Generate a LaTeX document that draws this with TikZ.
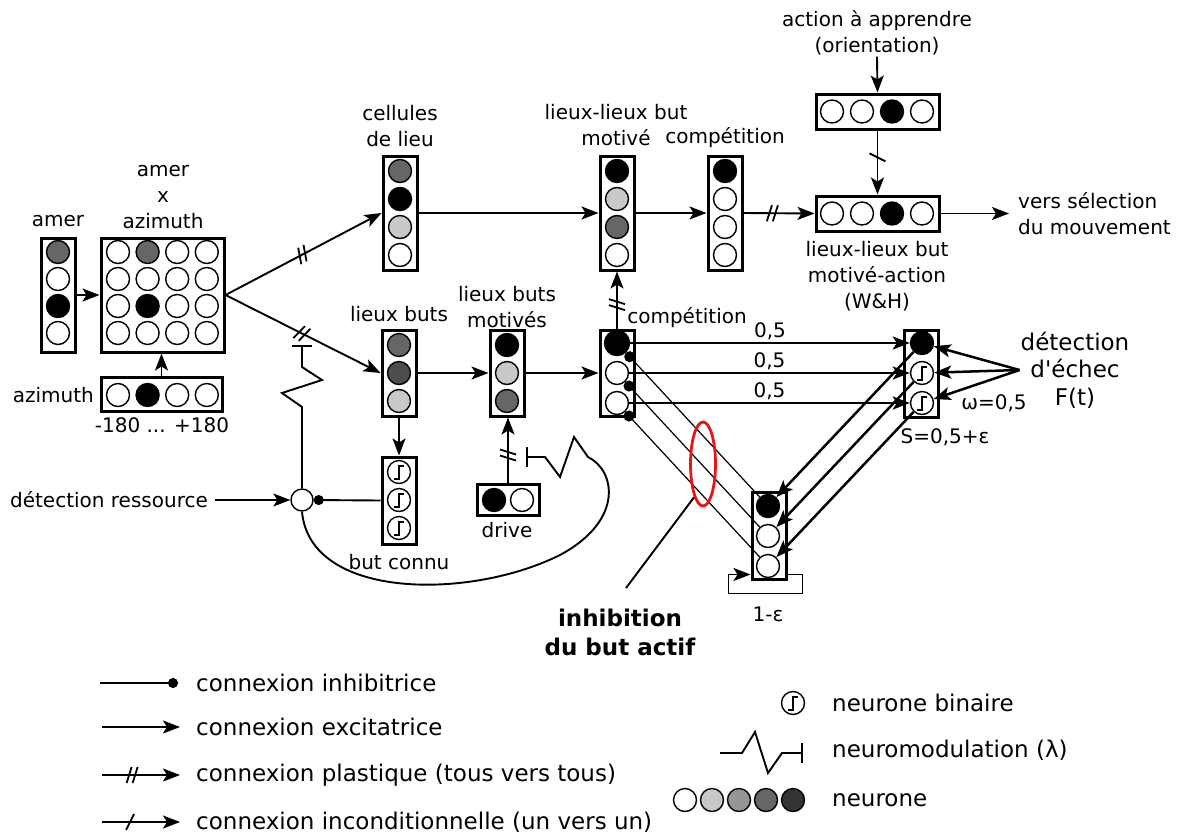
\documentclass[tikz,border=0pt]{standalone}
\usepackage{fontspec}
\setmainfont{DejaVu Sans}[Ligatures=TeXOff]
\usetikzlibrary{calc,arrows.meta,decorations.markings,shapes.geometric}
\definecolor{nrnLight}{RGB}{200,200,200}
\definecolor{nrnGrey}{RGB}{150,150,150}
\definecolor{nrnMid}{RGB}{102,102,102}
\definecolor{nrnDark}{RGB}{77,77,77}
\definecolor{nrnDeep}{RGB}{51,51,51}
\definecolor{inhibRed}{RGB}{235,20,20}
\newcommand{\NeuronCol}[5]{%
  \foreach \f [count=\k] in {#5}
    \node[neuron,fill=\f] (#1\k) at (#2,{#3+#4*(\k-1)}) {};}

\begin{document}
\begin{tikzpicture}[x=1pt,y=-1pt,font=\fontsize{20}{26}\selectfont,
  neuron/.style={circle,draw,line width=1.4pt,minimum size=23pt,inner sep=0pt,fill=white},
  binary/.style={neuron,path picture={\draw[line width=1.3pt] ($(path picture bounding box.center)+(-5pt,-7pt)$) -- ++(5pt,0pt) -- ++(0pt,13pt) -- ++(5pt,0pt);}},
  layerbox/.style={draw,line width=3pt,fill=white,inner sep=0pt},
  lbl/.style={align=center,inner sep=1pt},
  lgtext/.style={anchor=west,inner sep=2pt,font=\fontsize{23}{28}\selectfont},
  exc/.style={line width=1.9pt,-{Stealth[length=17pt,width=13pt,inset=4pt]}},
  exch/.style={exc,line width=2.5pt},
  inh/.style={line width=1.9pt,-{Circle[length=10pt]}},
  inhthin/.style={line width=1.2pt,-{Circle[length=11pt]}},
  modul/.style={line width=1.9pt,-{Bar[width=20pt]}},
  plastic/.style={postaction={decorate},decoration={markings,mark=at position #1 with {\draw[-,line width=1.8pt] (-5pt,-8pt) -- (0pt,8pt) (1pt,-8pt) -- (6pt,8pt);}}},
  uncond/.style={postaction={decorate},decoration={markings,mark=at position #1 with {\draw[-,line width=1.8pt] (-4pt,-8pt) -- (4pt,8pt);}}}]
\useasboundingbox (0,0) rectangle (1186,836);

\node[layerbox,minimum width=34pt,minimum height=114pt] (amer) at (58,295) {};
\NeuronCol{am}{58}{252}{27}{nrnMid,white,black,white}
\node[lbl] (amerlbl) at (58,221) {amer};

\node[layerbox,minimum width=123pt,minimum height=114pt] (grid) at (162.5,295) {};
\foreach \r/\f in {1/nrnMid,2/white,3/black,4/white}
  \foreach \c in {1,...,4} {
    \ifnum\c=2 \edef\gf{\f}\else\def\gf{white}\fi
    \node[neuron,fill=\gf] (g\r\c) at ({88.4+29.6*\c},{225+27*\r}) {};
  }
\node[lbl] (gridlbl) at (163,197) {amer\\x\\azimuth};

\node[layerbox,minimum width=121pt,minimum height=34pt] (azi) at (161.5,394.5) {};
\foreach \f [count=\c] in {white,black,white,white}
  \node[neuron,fill=\f] (az\c) at ({88.4+29.6*\c},395) {};
\node[lbl,anchor=east] (azilbl) at (95,395) {azimuth};
\node[lbl] (rangelbl) at (162,425) {-180 ... +180};

\node[layerbox,minimum width=34pt,minimum height=114pt] (lieu) at (400,213) {};
\NeuronCol{lieu}{400}{171}{28}{nrnMid,black,nrnLight,white}
\node[lbl] (lieulbl) at (400,126) {cellules\\de lieu};

\node[layerbox,minimum width=34pt,minimum height=114pt] (llbm) at (617,213) {};
\NeuronCol{llbm}{617}{171}{28}{black,nrnLight,nrnMid,white}
\node[lbl] (llbmlbl) at (616,125) {lieux-lieux but\\motivé};

\node[layerbox,minimum width=34pt,minimum height=114pt] (comp) at (725,213) {};
\NeuronCol{comp}{725}{171}{28}{black,white,white,white}
\node[lbl] (complbl) at (725,138) {compétition};

\node[layerbox,minimum width=123pt,minimum height=35pt] (act) at (877.5,111.5) {};
\foreach \f [count=\k] in {white,white,black,white}
  \node[neuron,fill=\f] (act\k) at ({802+30*\k},111.5) {};
\node[lbl] (actlbl) at (877,33) {action à apprendre\\(orientation)};

\node[layerbox,minimum width=123pt,minimum height=35pt] (wh) at (877.5,213.5) {};
\foreach \f [count=\k] in {white,white,black,white}
  \node[neuron,fill=\f] (wh\k) at ({802+30*\k},213.5) {};
\node[lbl] (whlbl) at (877,276) {lieux-lieux but\\motivé-action\\(W\&H)};
\node[lbl,anchor=west,align=left] (out) at (1017,214) {vers sélection\\du mouvement};

\node[layerbox,minimum width=34pt,minimum height=86pt] (lb) at (399,373) {};
\NeuronCol{lb}{399}{345}{28}{nrnMid,nrnDark,nrnLight}
\node[lbl] (lblbl) at (399,314) {lieux buts};

\node[layerbox,minimum width=34pt,minimum height=87pt] (bc) at (399,500.5) {};
\foreach \k in {1,2,3}
  \node[binary] (bc\k) at (399,{444+28*\k}) {};
\node[lbl] (bclbl) at (399,562) {but connu};

\node[layerbox,minimum width=34pt,minimum height=86pt] (lbm) at (507,373) {};
\NeuronCol{lbm}{507}{345}{28}{black,nrnLight,nrnMid}
\node[lbl] (lbmlbl) at (507,307) {lieux buts\\motivés};

\node[layerbox,minimum width=62pt,minimum height=31pt] (drive) at (508,500) {};
\node[neuron,fill=black] (drive1) at (494,500) {};
\node[neuron] (drive2) at (522,500) {};
\node[lbl] (drivelbl) at (507,530) {drive};

\node[layerbox,minimum width=34pt,minimum height=86pt] (cp) at (617,373) {};
\node[neuron,fill=black,minimum size=25pt] (cp1) at (617,343) {};
\node[neuron] (cp2) at (617,373) {};
\node[neuron] (cp3) at (617,403) {};
\node[lbl] (cplbl) at (687,318) {compétition};

\node[layerbox,minimum width=34pt,minimum height=87pt] (sc) at (921,373.5) {};
\node[neuron,fill=black] (s1) at (922,343) {};
\node[binary] (s2) at (922,373) {};
\node[binary] (s3) at (922,403) {};
\node[lbl] (omegalbl) at (994,403) {ω=0,5};
\node[lbl] (slbl) at (945,437) {S=0,5+ε};
\node[lbl,font=\fontsize{23}{27.5}\selectfont] (fail) at (1075,370) {détection\\d'échec\\F(t)};

\node[layerbox,minimum width=34pt,minimum height=87pt] (bot) at (769,535.5) {};
\NeuronCol{bot}{768}{506}{30}{black,white,white}
\node[lbl] (botlbl) at (768,614) {1-ε};

\node[neuron,minimum size=22pt] (res) at (302,500) {};
\node[lbl] (detres) at (109,500) {détection ressource};

\draw[exc] (amer.east) -- (grid.west);
\draw[exc] (azi.north) -- (azi.north |- grid.south);
\draw[exc,plastic=0.49] (grid.east) -- (lieu.west);
\draw[exc,plastic=0.49] (grid.east) -- (lb.west);
\draw[exc] (lieu.east) -- (llbm.west);
\draw[exc] (llbm.east) -- (comp.west);
\draw[exc,plastic=0.4] (comp.east) -- (wh.west);
\draw[exc] (actlbl.south) -- (act.north);
\draw[exc,uncond=0.42] (act.south) -- (wh.north);
\draw[exc,shorten >=8pt] (wh.east) -- (wh.east -| out.west);
\draw[exc] (lb.east) -- (lbm.west);
\draw[exc] (lbm.east) -- (cp.west);
\draw[exc] (lb.south) -- (bc.north);
\draw[exc,plastic=0.42] (drive.north) -- (drive.north |- lbm.south);
\draw[exc,plastic=0.41] (cp.north) -- (llbm.south);
\draw[exc,shorten <=6pt] (detres.east) -- (res.west);
\draw[inh] (bc.west) -- (res.east);

\coordinate (modA) at (302,345);
\draw[modul] (res.north) -- (302,407) -- (282,393) -- (322,380) -- (302,367) -- (modA);
\coordinate (modB) at (526,457);
\draw[modul] (res.south) .. controls (310,600) and (470,600) .. (560,555) .. controls (625,520) and (615,470) .. (588,457) -- (574,437) -- (560,477) -- (545,457) -- (modB);

\foreach \k in {1,2,3} {
  \draw[exch] (cp\k) -- node[above=1pt,inner sep=1pt] (w\k) {0,5} (s\k);
  \draw[exch] (s\k) -- (bot\k);
  \draw[inhthin] (bot\k) -- (cp\k);
  \draw[exch] (fail.west) -- (s\k);
}
\draw[exc] ($(bot.south east)+(0,-6)$) -- ++(15,0) -- ++(0,19) -- ++(-74,0) -- ++(0,-19) -- ($(bot.south west)+(0,-6)$);

\node[ellipse,draw=inhibRed,line width=2.8pt,minimum width=25pt,minimum height=84pt,inner sep=0pt] (ell) at (703,464) {};
\coordinate (inhpt) at (626,588);
\draw[line width=1.9pt] (ell.255) -- (inhpt);
\node[lbl,font=\bfseries\fontsize{23}{29}\selectfont] (inhlbl) at (620,632) {inhibition\\du but actif};

\node[lgtext] (lgInh) at (194,683) {connexion inhibitrice};
\draw[inh] ([xshift=-94pt]lgInh.west) -- ([xshift=-16pt]lgInh.west);
\node[lgtext] (lgExc) at (194,727) {connexion excitatrice};
\draw[exc] ([xshift=-92pt]lgExc.west) -- ([xshift=-14pt]lgExc.west);
\node[lgtext] (lgPla) at (194,775) {connexion plastique (tous vers tous)};
\draw[exc,plastic=0.38] ([xshift=-92pt]lgPla.west) -- ([xshift=-14pt]lgPla.west);
\node[lgtext] (lgUnc) at (194,822) {connexion inconditionnelle (un vers un)};
\draw[exc,uncond=0.36] ([xshift=-92pt]lgUnc.west) -- ([xshift=-14pt]lgUnc.west);

\node[binary] (lgBin) at (793,703) {};
\node[lgtext] (lgBinT) at (830,703) {neurone binaire};
\node[lgtext] (lgModT) at (830,750) {neuromodulation (λ)};
\coordinate (lgModA) at (720,753);
\coordinate (lgModB) at (803,753);
\draw[modul] (lgModA) -- (742,753) -- (755,732) -- (768,773) -- (782,753) -- (lgModB);
\foreach \f [count=\k] in {white,nrnLight,nrnGrey,nrnMid,nrnDeep}
  \node[neuron,fill=\f] (lgN\k) at ({658+27*\k},800) {};
\node[lgtext] (lgNT) at (830,800) {neurone};
\end{tikzpicture}
\end{document}
